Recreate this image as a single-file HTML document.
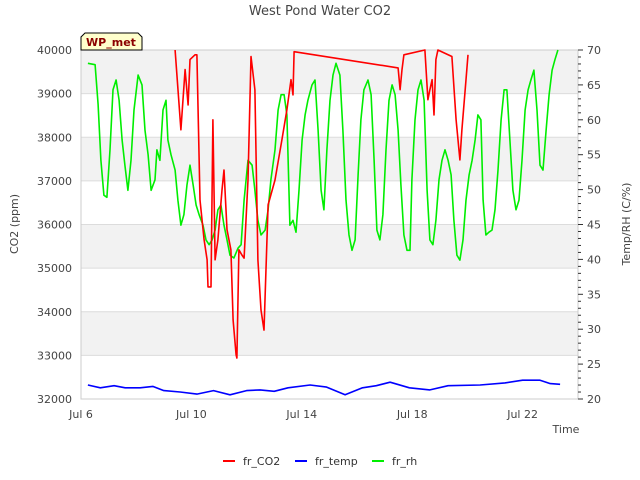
<!DOCTYPE html>
<html><head><meta charset="utf-8"><style>
body{margin:0;background:#fff;}
svg{display:block;font-family:"DejaVu Sans","Liberation Sans",sans-serif;}
</style></head><body>
<svg id="c" width="640" height="480" xmlns="http://www.w3.org/2000/svg"></svg>
<script>
const xTicks=[0,4,8,12,16];
const xTickLabels=["Jul 6","Jul 10","Jul 14","Jul 18","Jul 22"];
const leftTicks=[32000,33000,34000,35000,36000,37000,38000,39000,40000];
const rightTicks=[20,25,30,35,40,45,50,55,60,65,70];
const co2Days=[3.41,3.62,3.77,3.88,3.95,4.13,4.20,4.31,4.46,4.57,4.60,4.71,4.78,4.86,4.96,5.11,5.18,5.29,5.43,5.51,5.62,5.65,5.72,5.83,5.91,6.05,6.16,6.30,6.41,6.52,6.63,6.78,7.03,7.28,7.46,7.61,7.68,7.72,11.49,11.56,11.63,11.70,12.46,12.57,12.64,12.72,12.79,12.86,12.93,13.44,13.59,13.73,13.80,13.95,14.02];
const co2Vals=[40000,38170,39550,38740,39780,39890,39890,36560,35650,35190,34570,34570,38400,35190,35650,36790,37250,35880,35420,33810,33010,32940,35420,35300,35230,37020,39850,39090,35190,34040,33580,36450,37020,37940,38630,39320,38970,39960,39590,39090,39550,39890,40000,38860,39090,39320,38510,39780,40000,39850,38400,37480,38170,39320,39890];
const tempDays=[0.25,0.7,1.2,1.6,2.14,2.6,3.0,3.59,4.2,4.8,5.40,6.0,6.49,7.0,7.5,8.30,8.9,9.57,10.2,10.7,11.20,11.9,12.64,13.3,14.46,15.36,16.0,16.63,17.0,17.36];
const tempVals=[22.0,21.6,21.9,21.6,21.6,21.8,21.2,21.0,20.7,21.2,20.6,21.2,21.3,21.1,21.6,22.0,21.7,20.6,21.6,21.9,22.4,21.6,21.3,21.9,22.0,22.3,22.7,22.7,22.2,22.1];
const rhDays=[0.25,0.51,0.62,0.72,0.83,0.94,1.05,1.16,1.27,1.38,1.49,1.59,1.70,1.81,1.92,2.07,2.21,2.32,2.43,2.54,2.68,2.75,2.86,2.97,3.08,3.15,3.26,3.41,3.51,3.62,3.73,3.84,3.95,4.06,4.17,4.28,4.42,4.53,4.64,4.75,4.86,4.96,5.07,5.18,5.29,5.40,5.54,5.69,5.80,5.91,6.05,6.20,6.30,6.41,6.52,6.67,6.78,6.88,7.03,7.14,7.25,7.36,7.46,7.57,7.68,7.79,7.90,8.01,8.12,8.22,8.37,8.48,8.59,8.70,8.80,8.91,9.02,9.13,9.24,9.38,9.49,9.60,9.71,9.82,9.93,10.04,10.14,10.25,10.40,10.51,10.62,10.72,10.83,10.94,11.05,11.16,11.27,11.38,11.49,11.59,11.70,11.81,11.92,11.99,12.10,12.21,12.32,12.43,12.54,12.64,12.75,12.86,12.97,13.08,13.19,13.30,13.41,13.51,13.62,13.73,13.84,13.95,14.06,14.17,14.28,14.38,14.49,14.57,14.67,14.78,14.89,15.00,15.11,15.22,15.33,15.43,15.54,15.65,15.76,15.87,15.98,16.09,16.20,16.30,16.41,16.52,16.63,16.74,16.85,16.96,17.07,17.17,17.28,17.36];
const rhVals=[68.1,67.9,62.2,54.2,49.2,48.9,55.7,64.3,65.7,62.8,57.1,53.5,49.9,54.2,61.4,66.4,65.0,58.5,55.0,49.9,51.4,55.7,54.2,61.4,62.8,57.1,55.0,52.8,48.5,44.9,46.4,50.7,53.5,50.7,47.8,46.4,44.9,42.8,42.1,42.8,44.2,47.1,47.8,44.9,42.8,40.6,40.2,41.6,42.1,48.5,54.2,53.5,49.9,45.6,43.5,44.2,47.1,51.4,55.7,61.4,63.6,63.6,60.7,44.9,45.6,43.9,49.9,57.1,60.7,62.8,65.0,65.7,58.5,49.9,47.1,55.7,62.8,66.4,68.1,66.4,58.5,48.5,43.5,41.3,42.8,52.1,60.0,64.3,65.7,63.6,54.2,44.2,42.8,46.4,55.7,62.8,65.0,63.6,58.5,50.7,43.5,41.3,41.3,51.4,60.0,64.3,65.7,62.8,49.9,42.8,42.1,45.6,51.4,54.2,55.7,54.2,52.1,45.6,40.6,39.9,42.8,48.5,52.1,54.2,57.1,60.7,60.0,48.5,43.5,43.9,44.2,47.1,52.8,60.0,64.3,64.3,57.1,49.9,47.1,48.5,54.2,61.4,64.3,65.7,67.1,61.4,53.5,52.8,58.5,63.6,67.1,68.6,70.0];

const NS="http://www.w3.org/2000/svg";
const svg=document.getElementById('c');
const L=81,R=578,T=50,B=399;
const xs=d=>L+d*27.6;
const yl=v=>B-(v-32000)/8000*(B-T);
const yr=v=>B-(v-20)/50*(B-T);
function mk(tag,attrs,parent){const e=document.createElementNS(NS,tag);for(const k in attrs)e.setAttribute(k,attrs[k]);(parent||svg).appendChild(e);return e;}

// bands
for(let i=0;i<leftTicks.length-1;i++){
  if(i%2===1){const r=mk('rect',{x:L,y:yl(leftTicks[i+1]),width:R-L,height:yl(leftTicks[i])-yl(leftTicks[i+1]),fill:'#f2f2f2'});
  
  }
}
leftTicks.forEach(v=>{
  const g=mk('line',{x1:L,x2:R,y1:yl(v),y2:yl(v),stroke:'#dcdcdc','stroke-width':1});
  
  
  const t=mk('text',{x:72,y:yl(v)+4,'text-anchor':'end','font-size':11,fill:'#444'});
  t.textContent=v;
  
  
});
const frame=mk('rect',{x:L,y:T,width:R-L,height:B-T,fill:'none',stroke:'#cccccc'});


for(let v=20;v<=70;v++){
  const major=v%5===0;
  const tk=mk('line',{x1:R,x2:R+(major?5:3),y1:yr(v),y2:yr(v),stroke:'#333'});
  
  
}
rightTicks.forEach(v=>{
  const t=mk('text',{x:587,y:yr(v)+4,'font-size':11,fill:'#444'});
  t.textContent=v;
  
  
});
xTicks.forEach((d,i)=>{
  const t=mk('text',{x:xs(d),y:418,'text-anchor':'middle','font-size':11,fill:'#444'});
  t.textContent=xTickLabels[i];
  
  
});
function line(days,vals,ys,color,name){
  const p=days.map((d,i)=>(i?'L':'M')+xs(d).toFixed(1)+','+ys(vals[i]).toFixed(1)).join('');
  const e=mk('path',{d:p,fill:'none',stroke:color,'stroke-width':1.6,'stroke-linejoin':'round'});
  
  
}
line(tempDays,tempVals,yr,'#0000ff','fr-temp-line');
line(rhDays,rhVals,yr,'#00ee00','fr-rh-line');
line(co2Days,co2Vals,yl,'#ff0000','fr-co2-line');
</script>
<svg style="position:absolute;left:0;top:0" width="640" height="480" xmlns="http://www.w3.org/2000/svg" font-family="DejaVu Sans, Liberation Sans, sans-serif">
<text x="320" y="15" text-anchor="middle" font-size="13" fill="#444">West Pond Water CO2</text>
<polygon points="81,50 81,37 85,33 138,33 142,37 142,50" fill="#ffffcc" stroke="#000"/>
<text x="111" y="46" text-anchor="middle" font-size="11" font-weight="bold" fill="#8b0000">WP_met</text>
<text transform="translate(18,224) rotate(-90)" text-anchor="middle" font-size="11" fill="#444">CO2 (ppm)</text>
<text transform="translate(630,224) rotate(-90)" text-anchor="middle" font-size="11" fill="#444">Temp/RH (C/%)</text>
<text x="566" y="433" text-anchor="middle" font-size="11" fill="#444">Time</text>
<g>
<line x1="223" x2="235" y1="461" y2="461" stroke="#ff0000" stroke-width="2"/>
<text x="243" y="465" font-size="11" fill="#333">fr_CO2</text>
<line x1="295" x2="307" y1="461" y2="461" stroke="#0000ff" stroke-width="2"/>
<text x="315" y="465" font-size="11" fill="#333">fr_temp</text>
<line x1="372" x2="384" y1="461" y2="461" stroke="#00ee00" stroke-width="2"/>
<text x="392" y="465" font-size="11" fill="#333">fr_rh</text>
</g>
</svg>
</body></html>
